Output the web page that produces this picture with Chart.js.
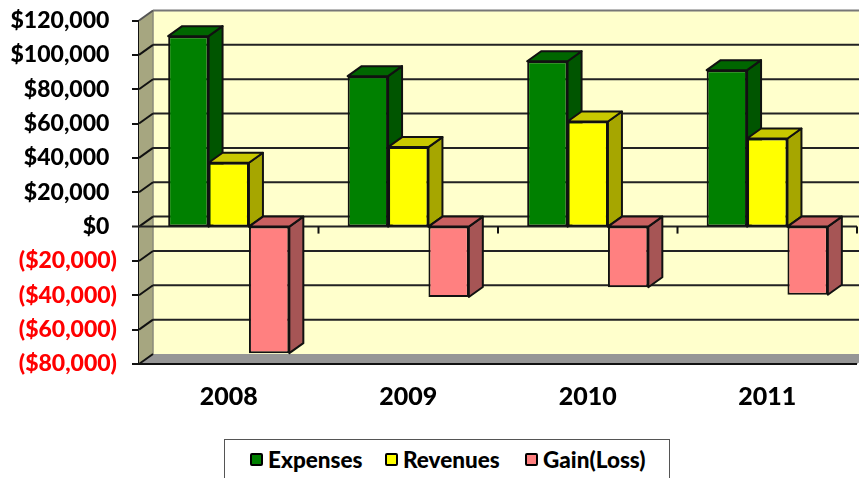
<!DOCTYPE html>
<html>
<head>
<meta charset="utf-8">
<script src="https://cdn.jsdelivr.net/npm/chart.js@4/dist/chart.umd.min.js"></script>
<style>
    html, body { margin: 0; padding: 0; background: #fff; overflow: hidden; }
    #wrap { position: relative; width: 859px; height: 478px; overflow: hidden; }
    #budget-chart { position: absolute; left: 0; top: 0; }
    #budget-legend {
        position: absolute; left: 224px; top: 439px; width: 444px; height: 60px;
        border: 1.5px solid #555; background: #fff;
        font: 900 22.5px Lato, sans-serif; color: #000;
    }
    #budget-legend .swatch {
        position: absolute; top: 13px; width: 9px; height: 9px;
        border: 2.5px solid #000; border-radius: 2px;
    }
    #budget-legend .name { position: absolute; top: 5px; line-height: 30px; white-space: nowrap; }
</style>
</head>
<body>
<div id="wrap">
    <canvas id="budget-chart" width="859" height="478"></canvas>
    <div id="budget-legend"></div>
</div>
<script>
'use strict';

const years = ['2008', '2009', '2010', '2011'];
const expenses = [110900, 87600, 96300, 91100];
const revenues = [37200, 46300, 61200, 51300];
const gainLoss = [-73700, -41000, -35300, -39700];

const frontColors = ['#008000', '#ffff00', '#ff8080'];
const sideColors = ['#005500', '#a6a600', '#a65555'];
const topColors = ['#006600', '#c8c800', '#c86060'];
const seriesNames = ['Expenses', 'Revenues', 'Gain(Loss)'];
const swatchLeft = [25, 160, 300];
const nameLeft = [43, 178, 318];

// how far the back wall sits from the front of the box
const depthX = 14;
const depthY = 10;

function polygon(ctx, pts, fill, stroke, lw) {
    ctx.beginPath();
    ctx.moveTo(pts[0][0], pts[0][1]);
    for (let i = 1; i < pts.length; i++) {
        ctx.lineTo(pts[i][0], pts[i][1]);
    }
    ctx.closePath();
    if (fill) {
        ctx.fillStyle = fill;
        ctx.fill();
    }
    if (stroke) {
        ctx.strokeStyle = stroke;
        ctx.lineWidth = lw;
        ctx.stroke();
    }
}

function line(ctx, x1, y1, x2, y2, color, lw) {
    ctx.beginPath();
    ctx.moveTo(x1, y1);
    ctx.lineTo(x2, y2);
    ctx.strokeStyle = color;
    ctx.lineWidth = lw;
    ctx.stroke();
}

const box3d = {
    id: 'box3d',
    beforeDatasetsDraw: function (chart) {
        const ctx = chart.ctx;
        const area = chart.chartArea;
        const yScale = chart.scales.y;
        const xScale = chart.scales.x;
        const l = area.left, r = area.right, t = area.top, b = area.bottom;
        ctx.save();
        ctx.lineJoin = 'round';

        // back wall, side wall, floor
        polygon(ctx, [[l + depthX, t - depthY], [r + depthX, t - depthY], [r + depthX, b - depthY], [l + depthX, b - depthY]],
            '#ffffcc', null);
        polygon(ctx, [[l, t], [l + depthX, t - depthY], [l + depthX, b - depthY], [l, b]], '#a6a680', null);
        polygon(ctx, [[l, b], [l + depthX, b - depthY], [r + depthX, b - depthY], [r, b]], '#969696', null);
        line(ctx, l + depthX, t - depthY, r + depthX, t - depthY, '#777', 2);
        line(ctx, l + depthX, t - depthY, l + depthX, b - depthY, '#8a8a7a', 1.5);

        // gridlines run along the back wall and fold down the side wall
        yScale.ticks.forEach(function (tick) {
            const y = yScale.getPixelForValue(tick.value);
            if (tick.value === yScale.max) {
                line(ctx, l, y, l + depthX, y - depthY, '#555', 2);
                return;
            }
            line(ctx, l, y, l + depthX, y - depthY, '#111', 2);
            if (tick.value !== yScale.min) {
                line(ctx, l + depthX, y - depthY, r + depthX, y - depthY, '#222', 2);
            }
        });
        line(ctx, l, b, r, b, '#111', 2);

        // zero plane front edge with the category tick marks
        const zero = yScale.getPixelForValue(0);
        line(ctx, l - 7, zero, r, zero, '#222', 2);
        const band = xScale.getPixelForValue(1) - xScale.getPixelForValue(0);
        years.forEach(function (year, i) {
            const x = xScale.getPixelForValue(i) + band / 2;
            line(ctx, x, zero, x, zero + 7, '#111', 2);
        });

        // side and top faces of the bars, the library paints the fronts over them
        chart.data.datasets.forEach(function (ds, d) {
            chart.getDatasetMeta(d).data.forEach(function (bar) {
                const left = bar.x - bar.width / 2;
                const right = bar.x + bar.width / 2;
                const top = Math.min(bar.y, bar.base);
                const bottom = Math.max(bar.y, bar.base);
                polygon(ctx, [[right, top], [right + depthX, top - depthY], [right + depthX, bottom - depthY], [right, bottom]],
                    sideColors[d], '#111', 2);
                polygon(ctx, [[left, top], [left + depthX, top - depthY], [right + depthX, top - depthY], [right, top]],
                    topColors[d], '#111', 2);
            });
        });
        ctx.restore();
    },
};

function moneyLabel(value) {
    const text = '$' + Math.abs(value).toLocaleString('en-US');
    return value < 0 ? '(' + text + ')' : text + '\u2004';
}

const budgetChart = new Chart(document.getElementById('budget-chart'), {
    type: 'bar',
    data: {
        labels: years,
        datasets: [
            { label: seriesNames[0], data: expenses, backgroundColor: frontColors[0] },
            { label: seriesNames[1], data: revenues, backgroundColor: frontColors[1] },
            { label: seriesNames[2], data: gainLoss, backgroundColor: frontColors[2] },
        ],
    },
    options: {
        responsive: false,
        animation: false,
        devicePixelRatio: 1,
        layout: { padding: { top: 20.5, right: 2, left: 0, bottom: 0 } },
        elements: { bar: { borderColor: '#111', borderWidth: 2, borderSkipped: false } },
        datasets: { bar: { barPercentage: 1, categoryPercentage: 0.675 } },
        plugins: { legend: { display: false }, tooltip: { enabled: false } },
        scales: {
            x: {
                grid: { display: false },
                border: { display: false },
                ticks: {
                    color: '#000', padding: 10, maxRotation: 0,
                    font: { family: 'Lato', weight: '900', size: 25 },
                },
                afterFit: function (axis) { axis.height = 114; },
            },
            y: {
                min: -80000,
                max: 120000,
                grid: {
                    drawOnChartArea: false, drawTicks: true, tickLength: 7, color: '#111',
                    // the zero tick is painted with the zero plane, a width here would lift the bars off it
                    lineWidth: function (c) { return c.tick && c.tick.value === 0 ? 0 : 2; },
                },
                border: { display: true, color: '#111', width: 2 },
                ticks: {
                    stepSize: 20000,
                    padding: 15,
                    callback: moneyLabel,
                    color: function (c) { return c.tick.value < 0 ? '#ff0000' : '#000'; },
                    font: { family: 'Lato', weight: '900', size: 23 },
                },
                afterFit: function (axis) {
                    axis.width = 139;
                    axis.paddingTop = 0;
                    axis.paddingBottom = 0;
                },
            },
        },
    },
    plugins: [box3d],
});

window.setLegendTemplate = function (datasets) {
    return datasets.map(function (ds, i) {
        return '<span class="swatch" style="left:' + swatchLeft[i] + 'px;background:' + ds.backgroundColor + '"></span>' +
            '<span class="name" style="left:' + nameLeft[i] + 'px">' + ds.label + '</span>';
    }).join('');
};

document.getElementById('budget-legend').innerHTML = setLegendTemplate(budgetChart.data.datasets);
</script>
</body>
</html>
